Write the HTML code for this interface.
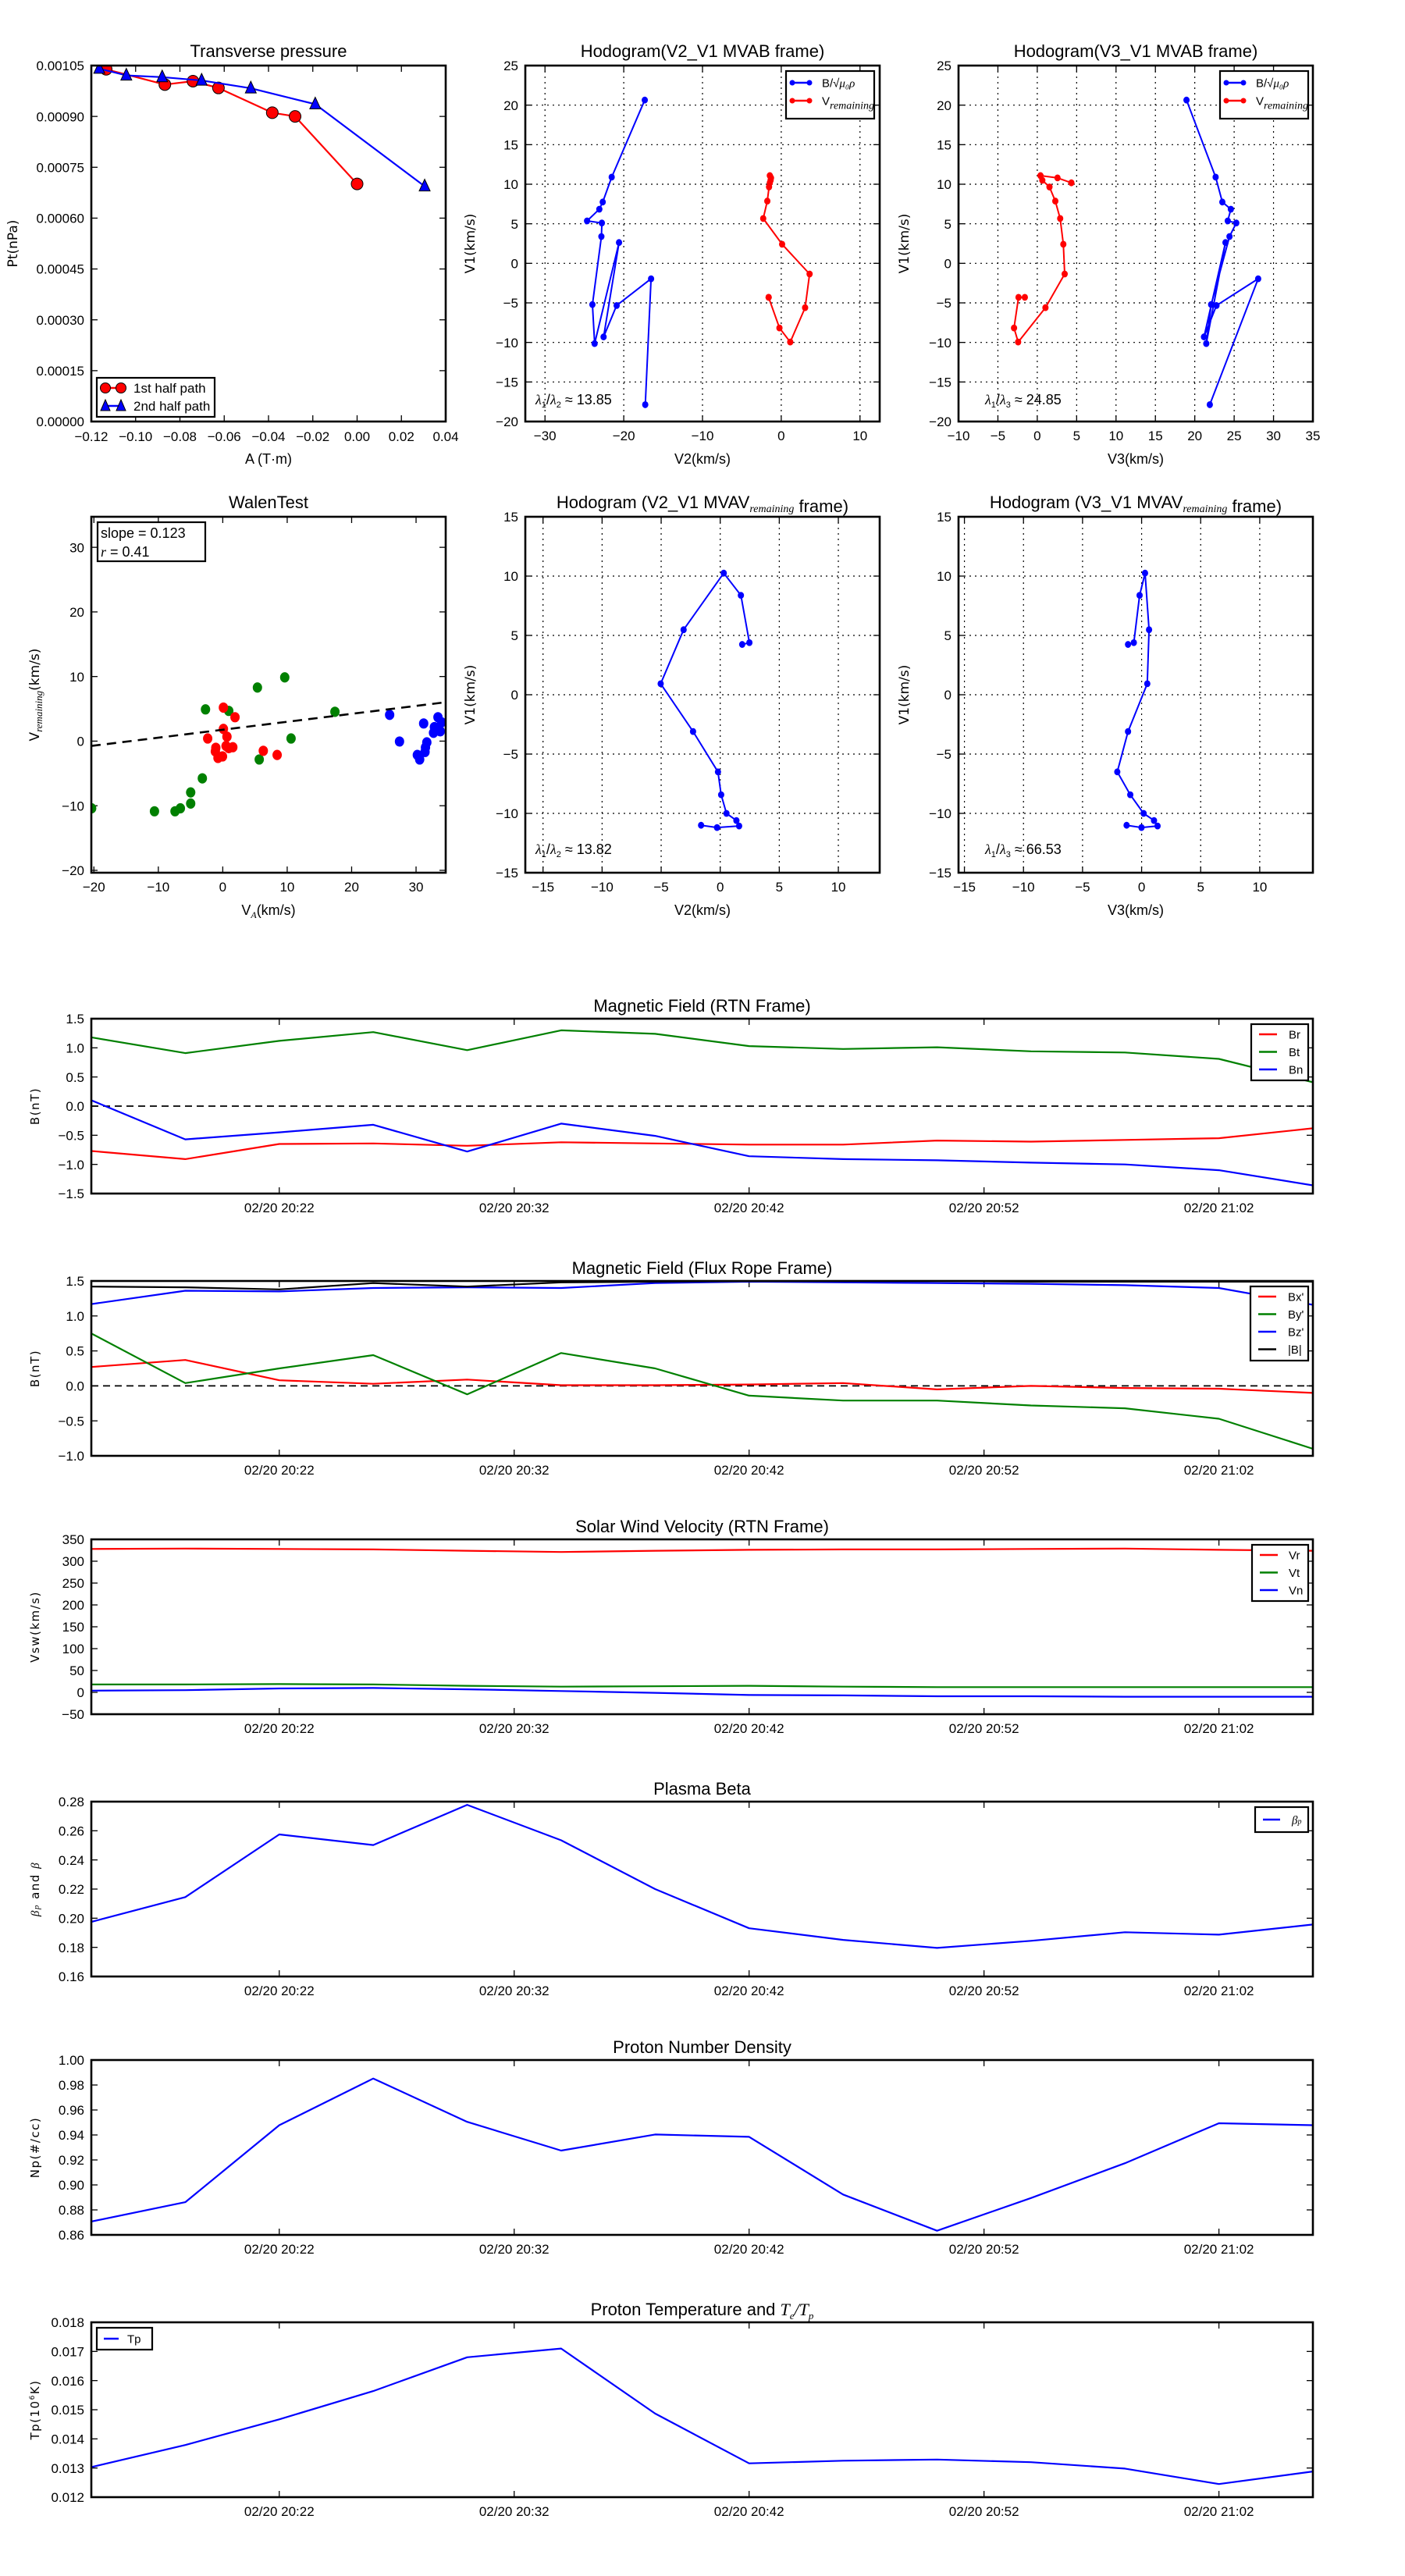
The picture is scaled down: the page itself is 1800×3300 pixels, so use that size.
<!DOCTYPE html>
<html><head><meta charset="utf-8"><style>
html,body{margin:0;padding:0;background:#fff;}
svg{display:block;font-family:"Liberation Sans","DejaVu Sans",sans-serif;}
</style></head><body>
<svg id="fig" xmlns="http://www.w3.org/2000/svg" width="1800" height="3300" viewBox="0 0 1800 3300">
<rect x="0" y="0" width="1800" height="3300" fill="#fff"/>
</svg>
<script>
// ---------- data ----------
const ptRedA=[-0.1133,-0.0868,-0.0741,-0.0626,-0.0383,-0.0280,0.0];
const ptRedP=[0.001039,0.000994,0.001004,0.000984,0.000911,0.000900,0.000701];
const ptBlueA=[-0.1164,-0.1042,-0.0880,-0.0702,-0.048,-0.0189,0.0305];
const ptBlueP=[0.001041,0.001021,0.001016,0.001006,0.000983,0.000936,0.000694];
const ptXTicks=[-0.12,-0.10,-0.08,-0.06,-0.04,-0.02,0.00,0.02,0.04];
const ptYTicks=[0,0.00015,0.0003,0.00045,0.0006,0.00075,0.0009,0.00105];

const hbV1=[20.64,10.9,7.75,6.84,5.36,5.1,3.39,-5.21,-10.14,2.63,-9.3,-5.33,-1.95,-17.87];
const hbV2=[-17.33,-21.53,-22.67,-23.1,-24.66,-22.78,-22.84,-23.98,-23.7,-20.6,-22.56,-20.9,-16.53,-17.27];
const hbV3=[18.95,22.65,23.5,24.58,24.19,25.27,24.41,22.08,21.46,23.9,21.17,22.76,28.05,21.91];
const hvV1=[10.18,10.8,11.09,10.5,9.65,7.87,5.67,2.41,-1.35,-5.6,-9.95,-8.17,-4.3,-4.3];
const hvV2=[-1.45,-1.3,-1.45,-1.35,-1.55,-1.77,-2.29,0.11,3.6,3.03,1.14,-0.23,-1.6,-1.6];
const hvV3=[4.33,2.57,0.41,0.64,1.55,2.29,2.91,3.31,3.48,1.04,-2.43,-2.95,-2.38,-1.58];

const wGreenX=[-20.35,-10.6,-7.41,-6.58,-4.98,-4.98,-3.17,-2.68,0.93,5.38,9.62,5.66,10.6,17.41];
const wGreenY=[-10.4,-10.86,-10.86,-10.4,-9.66,-7.94,-5.76,4.91,4.68,8.3,9.87,-2.84,0.41,4.54];
const wRedX=[0.10,1.9,0.1,-2.34,0.65,-1.08,-1.15,0.51,0.93,1.56,-0.74,-0.04,6.29,8.44];
const wRedY=[5.19,3.7,1.89,0.41,0.69,-1.03,-1.59,-0.75,-1.08,-0.94,-2.6,-2.37,-1.5,-2.14];
const wBlueX=[25.9,27.43,31.18,33.4,33.96,32.85,32.71,33.76,31.67,31.46,31.39,30.2,30.56];
const wBlueY=[4.07,-0.06,2.73,3.7,2.91,2.17,1.29,1.52,-0.19,-0.98,-1.68,-2.14,-2.84];
const wSlope=0.123, wIntercept=1.76;

const mvV1=[4.24,4.39,8.38,10.25,5.48,0.93,-3.1,-6.5,-8.43,-10.0,-10.6,-11.06,-11.19,-11.0];
const mvV2=[1.86,2.47,1.75,0.3,-3.1,-5.04,-2.3,-0.19,0.08,0.53,1.37,1.6,-0.27,-1.62];
const mvV3=[-1.15,-0.66,-0.17,0.29,0.63,0.48,-1.15,-2.06,-0.96,0.17,1.05,1.35,-0.01,-1.27];

const times=['20:14','20:18','20:22','20:26','20:30','20:34','20:38','20:42','20:46','20:50','20:54','20:58','21:02','21:06'];
const timeTicks=['20:22','20:32','20:42','20:52','21:02'];
const Br=[-0.77,-0.91,-0.65,-0.64,-0.68,-0.62,-0.64,-0.66,-0.66,-0.59,-0.61,-0.58,-0.55,-0.38];
const Bt=[1.18,0.91,1.12,1.27,0.96,1.30,1.24,1.03,0.98,1.01,0.94,0.92,0.81,0.41];
const Bn=[0.10,-0.57,-0.45,-0.32,-0.78,-0.30,-0.51,-0.86,-0.91,-0.93,-0.97,-1.0,-1.10,-1.36];
const Bxp=[0.27,0.37,0.08,0.03,0.09,0.01,0.01,0.02,0.04,-0.05,0.00,-0.03,-0.04,-0.10];
const Byp=[0.75,0.04,0.25,0.44,-0.12,0.47,0.25,-0.14,-0.21,-0.21,-0.28,-0.32,-0.47,-0.90];
const Bzp=[1.17,1.36,1.35,1.40,1.41,1.40,1.47,1.49,1.48,1.47,1.46,1.44,1.40,1.16];
const Bmag=[1.42,1.41,1.38,1.47,1.42,1.48,1.49,1.50,1.50,1.50,1.49,1.49,1.49,1.49];
const Vr=[328,329,328,327,324,321,324,326,327,327,328,329,326,324];
const Vt=[18,18,19,18,15,13,14,15,13,12,12,12,12,12];
const Vn=[4,5,9,10,7,3,-1,-6,-7,-9,-9,-10,-10,-10];
const betaP=[0.1975,0.2145,0.2575,0.2502,0.2778,0.2535,0.22,0.1931,0.1851,0.1796,0.1845,0.1904,0.1887,0.1957];
const Np=[0.8707,0.8862,0.9478,0.9852,0.9505,0.9275,0.9404,0.9385,0.8923,0.8633,0.8895,0.9174,0.9494,0.9478];
const Tp=[0.01303,0.01379,0.01467,0.01564,0.0168,0.0171,0.01487,0.01316,0.01325,0.01329,0.0132,0.01298,0.01245,0.01288];

// ---------- helpers ----------
const NS='http://www.w3.org/2000/svg';
const svg=document.getElementById('fig');
function mk(tag,attrs,parent){const e=document.createElementNS(NS,tag);for(const k in attrs)e.setAttribute(k,attrs[k]);(parent||svg).appendChild(e);return e;}
const mins=s=>{const p=s.split(':');return (+p[0])*60+(+p[1]);};
const fmtMinus=s=>s.replace('-','\u2212');
let clipId=0;
function range(a,b,s){const r=[];for(let v=a;v<=b+s*1e-6;v+=s)r.push(+v.toFixed(8));return r;}

function axes(o){
  const g=mk('g',{});
  
  
  const sx=v=>o.x0+(v-o.xlim[0])/(o.xlim[1]-o.xlim[0])*(o.x1-o.x0);
  const sy=v=>o.y1-(v-o.ylim[0])/(o.ylim[1]-o.ylim[0])*(o.y1-o.y0);
  const id='clip'+(clipId++);
  const cp=mk('clipPath',{id:id},g);
  mk('rect',{x:o.x0,y:o.y0,width:o.x1-o.x0,height:o.y1-o.y0},cp);
  const fs=o.fs||17;
  o.xt.forEach((v,i)=>{
    const x=sx(v);
    if(o.grid){const gl=mk('line',{x1:x,x2:x,y1:o.y0,y2:o.y1,stroke:'#000','stroke-width':1.2,'stroke-dasharray':'2,5'},g);
      
      }
    mk('line',{x1:x,x2:x,y1:o.y1,y2:o.y1-8,stroke:'#000','stroke-width':1.3},g);
    mk('line',{x1:x,x2:x,y1:o.y0,y2:o.y0+8,stroke:'#000','stroke-width':1.3},g);
    const t=mk('text',{x:x,y:o.y1+(o.xlabOff||24),'text-anchor':'middle','font-size':fs,fill:'#000'},g);
    t.textContent=o.xl[i];
    
    
  });
  o.yt.forEach((v,i)=>{
    const y=sy(v);
    if(o.grid){const gl=mk('line',{x1:o.x0,x2:o.x1,y1:y,y2:y,stroke:'#000','stroke-width':1.2,'stroke-dasharray':'2,5'},g);
      
      }
    mk('line',{x1:o.x0,x2:o.x0+8,y1:y,y2:y,stroke:'#000','stroke-width':1.3},g);
    mk('line',{x1:o.x1,x2:o.x1-8,y1:y,y2:y,stroke:'#000','stroke-width':1.3},g);
    const t=mk('text',{x:o.x0-9,y:y+fs*0.36,'text-anchor':'end','font-size':fs,fill:'#000'},g);
    t.textContent=o.yl[i];
    
    
  });
  const inner=mk('g',{'clip-path':'url(#'+id+')'},g);
  
  
  const fr=mk('rect',{x:o.x0,y:o.y0,width:o.x1-o.x0,height:o.y1-o.y0,fill:'none',stroke:'#000','stroke-width':2.6},g);
  
  
  const tt=mk('text',{x:(o.x0+o.x1)/2,y:o.y0-(o.titleOff||11),'text-anchor':'middle','font-size':o.tfs||22,fill:'#000'},g);
  tt.innerHTML=o.title;
  
  
  if(o.xlabel){const xl=mk('text',{x:(o.x0+o.x1)/2,y:o.y1+54,'text-anchor':'middle','font-size':18,fill:'#000'},g);
    xl.innerHTML=o.xlabel;
    
    }
  if(o.ylabel){const yx=o.ylx, yy=(o.y0+o.y1)/2;
    const yl=mk('text',{x:yx,y:yy,'text-anchor':'middle','font-size':o.yfs||17,'font-family':'DejaVu Sans, sans-serif','letter-spacing':o.yls||0,fill:'#000',transform:'rotate(-90 '+yx+' '+yy+')'},g);
    yl.innerHTML=o.ylabel;
    
    }
  return {sx,sy,g:inner,outer:g};
}

function line(ax,xs,ys,color,name,w,dash){
  const pts=xs.map((x,i)=>ax.sx(x).toFixed(1)+','+ax.sy(ys[i]).toFixed(1)).join(' ');
  const p=mk('polyline',{points:pts,fill:'none',stroke:color,'stroke-width':w||2.2,'stroke-linejoin':'round','stroke-dasharray':dash||'none'},ax.g);
  
  
  return p;
}
function dots(ax,xs,ys,color,name,r){
  xs.forEach((x,i)=>{
    const c=mk('ellipse',{cx:ax.sx(x),cy:ax.sy(ys[i]),rx:r,ry:r*1.1,fill:color,stroke:'none'},ax.g);
    
    
  });
}
function legend(parent,x,y,w,h,entries,fs,lx1,lx2,tx,dy,y0){
  const lg=mk('g',{},parent);
  
  
  mk('rect',{x:x,y:y,width:w,height:h,fill:'#fff',stroke:'#000','stroke-width':2.2},lg);
  entries.forEach((e,i)=>{
    const yy=y0+i*dy;
    const le=mk('g',{},lg);
    
    
    mk('line',{x1:lx1,x2:lx2,y1:yy,y2:yy,stroke:e.c,'stroke-width':2.4},le);
    if(e.m==='dot'){mk('circle',{cx:lx1,cy:yy,r:3.5,fill:e.c},le);mk('circle',{cx:lx2,cy:yy,r:3.5,fill:e.c},le);}
    if(e.m==='big'){mk('circle',{cx:lx1,cy:yy,r:6.5,fill:e.c,stroke:'#000'},le);mk('circle',{cx:lx2,cy:yy,r:6.5,fill:e.c,stroke:'#000'},le);}
    if(e.m==='tri'){[lx1,lx2].forEach(cx=>mk('polygon',{points:`${cx},${yy-8} ${cx-6},${yy+6} ${cx+6},${yy+6}`,fill:e.c,stroke:'#000'},le));}
    const t=mk('text',{x:tx,y:yy+fs*0.36,'font-size':fs,fill:'#000'},le);
    t.innerHTML=e.t;
  });
}
const fmtInt=v=>fmtMinus(String(v));
const ratio=(a,b,v)=>`<tspan font-family="Liberation Serif,serif" font-style="italic">λ</tspan><tspan font-size="11" dy="4">${a}</tspan><tspan dy="-4">/</tspan><tspan font-family="Liberation Serif,serif" font-style="italic">λ</tspan><tspan font-size="11" dy="4">${b}</tspan><tspan dy="-4"> ≈ ${v}</tspan>`;
const subRem='<tspan font-family="Liberation Serif,serif" font-style="italic" font-size="14" dy="5">remaining</tspan><tspan dy="-5"></tspan>';

// ---------- Transverse pressure ----------
{
const ax=axes({name:'transverse-pressure-chart',x0:117,x1:571,y0:84,y1:540,xlim:[-0.12,0.04],ylim:[0,0.00105],
  xt:ptXTicks,xl:ptXTicks.map(v=>fmtMinus(v.toFixed(2))),yt:ptYTicks,yl:ptYTicks.map(v=>v.toFixed(5)),
  title:'Transverse pressure',xlabel:'A (T·m)',ylabel:'Pt(nPa)',ylx:22,xlabOff:25});
line(ax,ptRedA,ptRedP,'#f00','first-half-line',2.2);
ptRedA.forEach((a,i)=>{const c=mk('circle',{cx:ax.sx(a),cy:ax.sy(ptRedP[i]),r:7.5,fill:'#f00',stroke:'#000','stroke-width':1},ax.g);
  
  });
line(ax,ptBlueA,ptBlueP,'#00f','second-half-line',2.2);
ptBlueA.forEach((a,i)=>{const cx=ax.sx(a),cy=ax.sy(ptBlueP[i]);
  const t=mk('polygon',{points:`${cx},${cy-9} ${cx-7},${cy+6} ${cx+7},${cy+6}`,fill:'#00f',stroke:'#000','stroke-width':1},ax.g);
  
  });
legend(ax.outer,124,484,151,50,[{t:'1st half path',c:'#f00',m:'big'},{t:'2nd half path',c:'#00f',m:'tri'}],17,135,155,171,23,497);
}
// ---------- Hodogram V2_V1 MVAB ----------
{
const xt=[-30,-20,-10,0,10], yt=range(-20,25,5);
const ax=axes({name:'hodogram-v2-v1-mvab',x0:673,x1:1127,y0:84,y1:540,xlim:[-32.5,12.5],ylim:[-20,25],grid:true,
  xt:xt,xl:xt.map(fmtInt),yt:yt,yl:yt.map(fmtInt),title:'Hodogram(V2_V1 MVAB frame)',xlabel:'V2(km/s)',ylabel:'V1(km/s)',ylx:608});
line(ax,hbV2,hbV1,'#00f','b-alfven-line',2);dots(ax,hbV2,hbV1,'#00f','b-alfven-point',4);
line(ax,hvV2,hvV1,'#f00','v-remaining-line',2);dots(ax,hvV2,hvV1,'#f00','v-remaining-point',4);
legend(ax.outer,1007,91,113,61,[{t:'B/√<tspan font-family="Liberation Serif,serif" font-style="italic">μ₀ρ</tspan>',c:'#00f',m:'dot'},{t:'V'+subRem,c:'#f00',m:'dot'}],15,1015,1037,1053,23,106);
const t=mk('text',{x:686,y:518,'font-size':18,fill:'#000'},ax.outer);t.innerHTML=ratio(1,2,'13.85');


}
// ---------- Hodogram V3_V1 MVAB ----------
{
const xt=range(-10,35,5), yt=range(-20,25,5);
const ax=axes({name:'hodogram-v3-v1-mvab',x0:1228,x1:1682,y0:84,y1:540,xlim:[-10,35],ylim:[-20,25],grid:true,
  xt:xt,xl:xt.map(fmtInt),yt:yt,yl:yt.map(fmtInt),title:'Hodogram(V3_V1 MVAB frame)',xlabel:'V3(km/s)',ylabel:'V1(km/s)',ylx:1164});
line(ax,hbV3,hbV1,'#00f','b-alfven-line',2);dots(ax,hbV3,hbV1,'#00f','b-alfven-point',4);
line(ax,hvV3,hvV1,'#f00','v-remaining-line',2);dots(ax,hvV3,hvV1,'#f00','v-remaining-point',4);
legend(ax.outer,1563,91,113,61,[{t:'B/√<tspan font-family="Liberation Serif,serif" font-style="italic">μ₀ρ</tspan>',c:'#00f',m:'dot'},{t:'V'+subRem,c:'#f00',m:'dot'}],15,1571,1593,1609,23,106);
const t=mk('text',{x:1262,y:518,'font-size':18,fill:'#000'},ax.outer);t.innerHTML=ratio(1,3,'24.85');


}
// ---------- Walen test ----------
{
const xt=range(-20,30,10), yt=range(-20,30,10);
const ax=axes({name:'walen-test-chart',x0:117,x1:571,y0:662,y1:1118,xlim:[-20.4,34.6],ylim:[-20.37,34.73],
  xt:xt,xl:xt.map(fmtInt),yt:yt,yl:yt.map(fmtInt),title:'WalenTest',
  xlabel:'V<tspan font-family="Liberation Serif,serif" font-style="italic" font-size="12" dy="4">A</tspan><tspan dy="-4">(km/s)</tspan>',
  ylabel:'V<tspan font-family="Liberation Serif,serif" font-style="italic" font-size="13" dy="4">remaining</tspan><tspan dy="-4">(km/s)</tspan>',ylx:50});
dots(ax,wGreenX,wGreenY,'#008000','walen-point-green',6);
dots(ax,wRedX,wRedY,'#f00','walen-point-red',6);
dots(ax,wBlueX,wBlueY,'#00f','walen-point-blue',6);
const fx=[-20.4,34.6];
line(ax,fx,fx.map(x=>wSlope*x+wIntercept),'#000','walen-fit-line',2.6,'12,8');
const bx=mk('g',{},ax.outer);


mk('rect',{x:125,y:669,width:138,height:50,fill:'#fff',stroke:'#000','stroke-width':2.2},bx);
const t1=mk('text',{x:129,y:689,'font-size':18},bx);t1.textContent='slope = 0.123';
const t2=mk('text',{x:129,y:713,'font-size':18},bx);t2.innerHTML='<tspan font-family="Liberation Serif,serif" font-style="italic">r</tspan> = 0.41';
}
// ---------- Hodogram V2_V1 MVAV ----------
{
const xt=range(-15,10,5), yt=range(-15,15,5);
const ax=axes({name:'hodogram-v2-v1-mvav',x0:673,x1:1127,y0:662,y1:1118,xlim:[-16.5,13.5],ylim:[-15,15],grid:true,
  xt:xt,xl:xt.map(fmtInt),yt:yt,yl:yt.map(fmtInt),title:'Hodogram (V2_V1 MVAV'+subRem+' frame)',xlabel:'V2(km/s)',ylabel:'V1(km/s)',ylx:608});
line(ax,mvV2,mvV1,'#00f','mvav-line',2);dots(ax,mvV2,mvV1,'#00f','mvav-point',4);
const t=mk('text',{x:686,y:1094,'font-size':18,fill:'#000'},ax.outer);t.innerHTML=ratio(1,2,'13.82');


}
// ---------- Hodogram V3_V1 MVAV ----------
{
const xt=range(-15,10,5), yt=range(-15,15,5);
const ax=axes({name:'hodogram-v3-v1-mvav',x0:1228,x1:1682,y0:662,y1:1118,xlim:[-15.5,14.5],ylim:[-15,15],grid:true,
  xt:xt,xl:xt.map(fmtInt),yt:yt,yl:yt.map(fmtInt),title:'Hodogram (V3_V1 MVAV'+subRem+' frame)',xlabel:'V3(km/s)',ylabel:'V1(km/s)',ylx:1164});
line(ax,mvV3,mvV1,'#00f','mvav-line',2);dots(ax,mvV3,mvV1,'#00f','mvav-point',4);
const t=mk('text',{x:1262,y:1094,'font-size':18,fill:'#000'},ax.outer);t.innerHTML=ratio(1,3,'66.53');


}
// ---------- time series ----------
const tm=times.map(mins), tTick=timeTicks.map(mins);
function tpanel(name,y0,ylim,yt,dec,title,ylabel){
  return axes({name:name,x0:117,x1:1682,y0:y0,y1:y0+224,xlim:[tm[0],tm[tm.length-1]],ylim:ylim,
    xt:tTick,xl:timeTicks.map(s=>'02/20 '+s),yt:yt,yl:yt.map(v=>fmtMinus(v.toFixed(dec))),
    title:title,ylabel:ylabel,ylx:50,yfs:15,yls:1.5,fs:17,titleOff:9,tfs:22});
}
function zero(ax,name){line(ax,[tm[0],tm[tm.length-1]],[0,0],'#000',name,1.8,'9,6');}
{
const ax=tpanel('magnetic-field-rtn-chart',1305,[-1.5,1.5],range(-1.5,1.5,0.5),1,'Magnetic Field (RTN Frame)','B(nT)');
zero(ax,'zero-line');
line(ax,tm,Br,'#f00','br-line');line(ax,tm,Bt,'#008000','bt-line');line(ax,tm,Bn,'#00f','bn-line');
legend(ax.outer,1603,1312,73,72,[{t:'Br',c:'#f00'},{t:'Bt',c:'#008000'},{t:'Bn',c:'#00f'}],15,1613,1636,1651,22.5,1325);
}
{
const ax=tpanel('magnetic-field-flux-rope-chart',1641,[-1,1.5],range(-1,1.5,0.5),1,'Magnetic Field (Flux Rope Frame)','B(nT)');
zero(ax,'zero-line');
line(ax,tm,Bxp,'#f00','bx-line');line(ax,tm,Byp,'#008000','by-line');line(ax,tm,Bzp,'#00f','bz-line');line(ax,tm,Bmag,'#000','bmag-line');
legend(ax.outer,1602,1648,74,95,[{t:'Bx\'',c:'#f00'},{t:'By\'',c:'#008000'},{t:'Bz\'',c:'#00f'},{t:'|B|',c:'#000'}],15,1612,1635,1650,22.5,1661);
}
{
const ax=tpanel('solar-wind-velocity-chart',1972,[-50,350],range(-50,350,50),0,'Solar Wind Velocity (RTN Frame)','Vsw(km/s)');
line(ax,tm,Vr,'#f00','vr-line');line(ax,tm,Vt,'#008000','vt-line');line(ax,tm,Vn,'#00f','vn-line');
legend(ax.outer,1604,1979,72,72,[{t:'Vr',c:'#f00'},{t:'Vt',c:'#008000'},{t:'Vn',c:'#00f'}],15,1614,1637,1651,22.5,1992);
}
{
const ax=tpanel('plasma-beta-chart',2308,[0.16,0.28],range(0.16,0.28,0.02),2,'Plasma Beta','<tspan font-family="Liberation Serif,serif" font-style="italic">β<tspan font-size="11">p</tspan></tspan> and <tspan font-family="Liberation Serif,serif" font-style="italic">β</tspan>');
line(ax,tm,betaP,'#00f','beta-p-line');
legend(ax.outer,1608,2315,68,32,[{t:'<tspan font-family="Liberation Serif,serif" font-style="italic">β<tspan font-size="10">p</tspan></tspan>',c:'#00f'}],15,1618,1640,1655,22,2331);
}
{
const ax=tpanel('proton-density-chart',2639,[0.86,1.0],range(0.86,1.0,0.02),2,'Proton Number Density','Np(#/cc)');
line(ax,tm,Np,'#00f','np-line');
}
{
const ax=tpanel('proton-temperature-chart',2975,[0.012,0.018],range(0.012,0.018,0.001),3,'Proton Temperature and <tspan font-family="Liberation Serif,serif" font-style="italic">T<tspan font-size="13" dy="5">e</tspan><tspan dy="-5">/T</tspan><tspan font-size="13" dy="5">p</tspan></tspan>','Tp(10<tspan font-size="9" dy="-6">6</tspan><tspan dy="6">K)</tspan>');
line(ax,tm,Tp,'#00f','tp-line');
legend(ax.outer,124,2982,71,28,[{t:'Tp',c:'#00f'}],15,133,152,163,22,2996);
}
</script>
</body></html>
